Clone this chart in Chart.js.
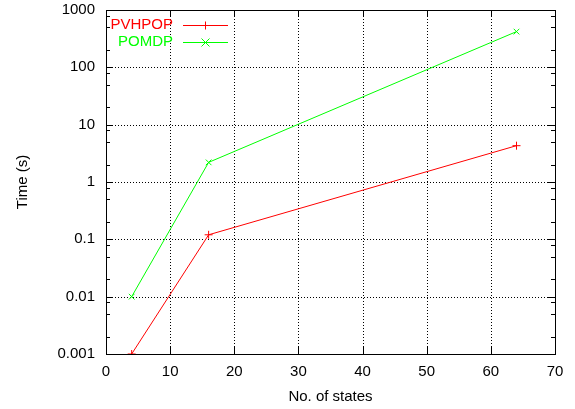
<!DOCTYPE html>
<html lang="en">
<head>
    <meta charset="UTF-8">
    <title>Time vs No. of states</title>
    <script src="https://cdn.jsdelivr.net/npm/chart.js"></script>
    <style>
        html, body { margin: 0; padding: 0; background: #ffffff; }
        #wrap { width: 575px; height: 409px; }
    </style>
</head>
<body>
    <div id="wrap"><canvas id="timeChart" width="575" height="409"></canvas></div>

    <script>
        // data
        const numStates = [4, 16, 64];
        const pvhpopTime = [0.001, 0.12, 4.3];
        const pomdpTime = [0.01, 2.2, 420];
        const seriesNames = ['PVHPOP', 'POMDP'];
        const xTicks = [0, 10, 20, 30, 40, 50, 60, 70];
        const yTicks = [0.001, 0.01, 0.1, 1, 10, 100, 1000];
        const yTickLabels = ['0.001', '0.01', '0.1', '1', '10', '100', '1000'];
        const yMinorSteps = [2, 5, 8];

        const FONT = 'Liberation Sans, Arial, sans-serif';
        const RED = '#ff0000';
        const GREEN = '#00ff00';
        const seriesColors = [RED, GREEN];
        const seriesMarks = ['plus', 'x'];

        const toPoints = (xs, ys) => xs.map((x, i) => ({ x: x, y: ys[i] }));

        // gnuplot look: dotted grid, ticks pointing inward, boxed plot, legend inside top-left
        const gnuplotFrame = {
            id: 'gnuplotFrame',
            beforeDatasetsDraw(chart) {
                const { ctx, chartArea: a, scales: { x, y } } = chart;
                ctx.save();
                ctx.strokeStyle = '#000';
                ctx.lineWidth = 1;
                ctx.setLineDash([1, 2]);
                xTicks.slice(1, -1).forEach(v => {
                    const px = Math.round(x.getPixelForValue(v)) + 0.5;
                    ctx.beginPath(); ctx.moveTo(px, a.top); ctx.lineTo(px, a.bottom); ctx.stroke();
                });
                yTicks.slice(1, -1).forEach(v => {
                    const py = Math.round(y.getPixelForValue(v)) + 0.5;
                    ctx.beginPath(); ctx.moveTo(a.left, py); ctx.lineTo(a.right, py); ctx.stroke();
                });
                ctx.restore();
            },
            afterDatasetsDraw(chart) {
                const { ctx, chartArea: a, scales: { x, y } } = chart;
                ctx.save();
                ctx.strokeStyle = '#000';
                ctx.lineWidth = 1;
                ctx.setLineDash([]);
                // border
                ctx.strokeRect(Math.round(a.left) + 0.5, Math.round(a.top) + 0.5,
                    Math.round(a.right - a.left), Math.round(a.bottom - a.top));
                // x ticks (bottom and top)
                xTicks.forEach(v => {
                    const px = Math.round(x.getPixelForValue(v)) + 0.5;
                    ctx.beginPath();
                    ctx.moveTo(px, a.bottom); ctx.lineTo(px, a.bottom - 7);
                    ctx.moveTo(px, a.top); ctx.lineTo(px, a.top + 7);
                    ctx.stroke();
                });
                // y ticks, major and minor (left and right)
                yTicks.forEach((v, i) => {
                    const marks = [[v, 7]];
                    if (i < yTicks.length - 1) yMinorSteps.forEach(m => marks.push([v * m, 4]));
                    marks.forEach(([val, len]) => {
                        const py = Math.round(y.getPixelForValue(val)) + 0.5;
                        ctx.beginPath();
                        ctx.moveTo(a.left, py); ctx.lineTo(a.left + len, py);
                        ctx.moveTo(a.right, py); ctx.lineTo(a.right - len, py);
                        ctx.stroke();
                    });
                });
                ctx.restore();
            },
            afterDraw(chart) {
                const ctx = chart.ctx;
                ctx.save();
                ctx.setLineDash([]);
                ctx.lineWidth = 1;
                ctx.font = '15px ' + FONT;
                ctx.textAlign = 'right';
                ctx.textBaseline = 'middle';
                seriesNames.forEach((name, i) => {
                    const ly = 25 + i * 17;
                    const cx = 205.5, r = 4;
                    ctx.fillStyle = seriesColors[i];
                    ctx.fillText(name, 173, ly);
                    ctx.beginPath();
                    ctx.moveTo(183, ly + 0.5);
                    ctx.lineTo(228, ly + 0.5);
                    if (seriesMarks[i] === 'plus') {
                        ctx.moveTo(cx, ly - r + 0.5);
                        ctx.lineTo(cx, ly + r + 0.5);
                    } else {
                        ctx.moveTo(cx - r, ly - r + 0.5);
                        ctx.lineTo(cx + r, ly + r + 0.5);
                        ctx.moveTo(cx - r, ly + r + 0.5);
                        ctx.lineTo(cx + r, ly - r + 0.5);
                    }
                    ctx.strokeStyle = seriesColors[i];
                    ctx.stroke();
                });
                ctx.restore();
            }
        };

        const ctx = document.getElementById('timeChart').getContext('2d');
        const timeChart = new Chart(ctx, {
            type: 'scatter',
            data: {
                datasets: [
                    {
                        label: seriesNames[0],
                        data: toPoints(numStates, pvhpopTime),
                        showLine: true,
                        borderColor: RED,
                        backgroundColor: RED,
                        borderWidth: 1,
                        pointStyle: 'cross',
                        pointRadius: 4,
                        pointBorderWidth: 1
                    },
                    {
                        label: seriesNames[1],
                        data: toPoints(numStates, pomdpTime),
                        showLine: true,
                        borderColor: GREEN,
                        backgroundColor: GREEN,
                        borderWidth: 1,
                        pointStyle: 'crossRot',
                        pointRadius: 4,
                        pointBorderWidth: 1
                    }
                ]
            },
            options: {
                responsive: false,
                animation: false,
                layout: { padding: { top: 10, right: 20, left: 0, bottom: 0 } },
                scales: {
                    x: {
                        type: 'linear',
                        min: 0,
                        max: 70,
                        afterBuildTicks: s => { s.ticks = xTicks.map(v => ({ value: v })); },
                        afterFit: s => { s.height = 55; },
                        grid: { display: false, drawTicks: false },
                        border: { display: false },
                        ticks: { color: '#000', padding: 9, font: { family: FONT, size: 15 } },
                        title: {
                            display: true,
                            text: 'No. of states',
                            color: '#000',
                            padding: { top: 0, bottom: 3 },
                            font: { family: FONT, size: 15 }
                        }
                    },
                    y: {
                        type: 'logarithmic',
                        min: 0.001,
                        max: 1000,
                        afterBuildTicks: s => { s.ticks = yTicks.map(v => ({ value: v })); },
                        afterFit: s => { s.width = 106; s.paddingTop = 0; s.paddingBottom = 0; },
                        grid: { display: false, drawTicks: false },
                        border: { display: false },
                        ticks: {
                            color: '#000',
                            padding: 11,
                            font: { family: FONT, size: 15 },
                            callback: v => {
                                const i = yTicks.findIndex(t => Math.abs(t - v) / t < 1e-6);
                                return i >= 0 ? yTickLabels[i] : '';
                            }
                        },
                        title: {
                            display: true,
                            text: 'Time (s)',
                            color: '#000',
                            padding: { top: 14, bottom: 0 },
                            font: { family: FONT, size: 15 }
                        }
                    }
                },
                plugins: {
                    legend: { display: false },
                    tooltip: { enabled: false }
                }
            },
            plugins: [gnuplotFrame]
        });
    </script>
</body>
</html>
